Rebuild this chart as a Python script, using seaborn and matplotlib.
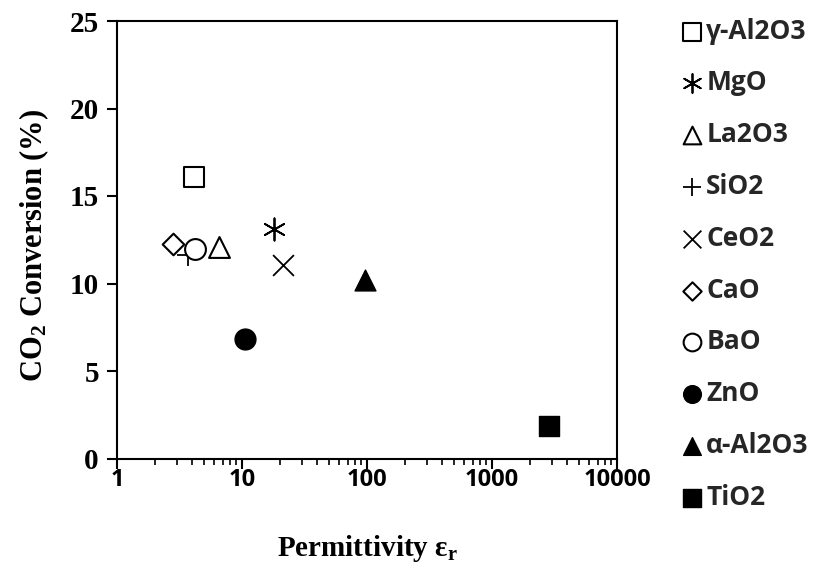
import matplotlib
matplotlib.use("Agg")
import matplotlib.pyplot as plt
import seaborn as sns
import pandas as pd

materials = ["γ-Al2O3", "MgO", "La2O3", "SiO2", "CeO2", "CaO", "BaO", "ZnO", "α-Al2O3", "TiO2"]
permittivity = [4.1, 18.0, 6.6, 3.7, 21.3, 2.8, 4.2, 10.6, 96.0, 2850.0]
conversion = [16.1, 13.1, 12.07, 11.63, 11.06, 12.27, 11.99, 6.83, 10.2, 1.86]

marker_list = ["s", (6, 2, 0), "^", "+", "x", "D", "o", "o", "^", "s"]
filled_list = [False, None, False, None, None, False, False, True, True, True]
size_list = [15, 16, 15, 16, 15, 11, 15, 15, 15, 15]

sns.set_theme(style="white")
plt.rcParams["mathtext.fontset"] = "custom"
plt.rcParams["mathtext.rm"] = "Liberation Serif:bold"
plt.rcParams["mathtext.it"] = "Liberation Serif:bold:italic"
plt.rcParams["mathtext.bf"] = "Liberation Serif:bold"

df = pd.DataFrame({"material": materials, "eps": permittivity, "conv": conversion})

fig = plt.figure(figsize=(8.25, 5.73), dpi=100)
ax = fig.add_axes([117 / 825, 1 - 458.5 / 573, 500 / 825, 437.5 / 573])

for i, row in df.iterrows():
    m = marker_list[i]
    f = filled_list[i]
    ms = size_list[i]
    kw = dict(x=[row["eps"]], y=[row["conv"]], ax=ax, marker=m, s=ms ** 2,
              label=row["material"], legend=False)
    if f is None:
        sns.scatterplot(color="black", linewidth=1.3, **kw)
    elif f:
        sns.scatterplot(color="black", edgecolor="black", linewidth=1.0, **kw)
    else:
        sns.scatterplot(facecolor="white", edgecolor="black", linewidth=1.5, **kw)

ax.set_xscale("log")
ax.set_xlim(1, 10000)
ax.set_ylim(0, 25)
ax.set_yticks([0, 5, 10, 15, 20, 25])
ax.set_xticks([1, 10, 100, 1000, 10000])
ax.set_xticklabels(["1", "10", "100", "1000", "10000"])

for sp in ax.spines.values():
    sp.set_color("black")
    sp.set_linewidth(1.5)

ax.tick_params(axis="x", which="major", direction="out", length=7, width=1.5,
               color="black", bottom=True, pad=0)
ax.tick_params(axis="x", which="minor", direction="out", length=4, width=1.2,
               color="black", bottom=True)
ax.tick_params(axis="y", which="major", direction="out", length=7, width=1.5,
               color="black", left=True, pad=6)

for lab in ax.get_xticklabels():
    lab.set_fontfamily("Open Sans")
    lab.set_fontweight("bold")
    lab.set_fontsize(17)
    lab.set_color("black")
for lab in ax.get_yticklabels():
    lab.set_fontfamily("Liberation Serif")
    lab.set_fontweight("bold")
    lab.set_fontsize(21)
    lab.set_color("black")

ax.set_xlabel("Permittivity ε$_\\mathrm{r}$", fontfamily="Liberation Serif",
              fontweight="bold", fontsize=21, color="black", labelpad=29)
ax.set_ylabel("CO$_\\mathrm{2}$ Conversion (%)", fontfamily="Liberation Serif",
              fontweight="bold", fontsize=22, color="black")
ax.yaxis.set_label_coords(-0.132, 0.488)

handles, labels = ax.get_legend_handles_labels()
leg = fig.legend(handles, labels, loc="upper left", bbox_to_anchor=(672 / 825, 1 - 7 / 573),
                 frameon=False, markerscale=0.85, handlelength=0.7, handletextpad=0.2,
                 labelspacing=0.94, prop={"family": "Open Sans", "weight": "bold", "size": 19},
                 borderaxespad=0.0)

fig.savefig("out.png", dpi=100)
